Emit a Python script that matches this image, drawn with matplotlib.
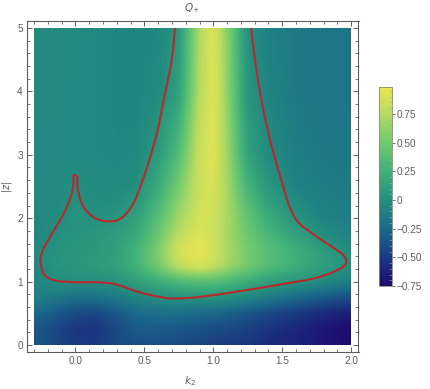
import numpy as np
import matplotlib
matplotlib.use("Agg")
import matplotlib.pyplot as plt
from matplotlib.cm import ScalarMappable
from matplotlib.colors import LinearSegmentedColormap, Normalize
from matplotlib.patches import PathPatch, Rectangle
from matplotlib.path import Path
from matplotlib.ticker import MultipleLocator

# grid
k2 = [-0.3, -0.15, 0, 0.15, 0.3, 0.45, 0.6, 0.75, 0.9, 1.0, 1.1, 1.25, 1.4, 1.6, 1.8, 2.0]
z = [0, 0.25, 0.5, 0.75, 1, 1.25, 1.5, 1.75, 2, 2.5, 3, 4, 5]
q_00 = [-.35, -.42, -.50, -.50, -.42, -.38, -.38, -.42, -.45, -.47, -.50, -.52, -.58, -.62, -.68, -.75]
q_01 = [-.33, -.42, -.52, -.53, -.42, -.33, -.32, -.35, -.38, -.40, -.42, -.47, -.53, -.60, -.68, -.74]
q_02 = [-.25, -.33, -.42, -.44, -.35, -.25, -.22, -.22, -.25, -.27, -.30, -.35, -.42, -.50, -.58, -.65]
q_03 = [-.10, -.15, -.20, -.20, -.14, -.07, .00, .02, .03, .02, .00, -.06, -.14, -.24, -.33, -.40]
q_04 = [-.08, -.01, .00, .00, .03, .12, .22, .33, .38, .38, .33, .22, .12, .05, -.03, -.12]
q_05 = [-.05, .03, .06, .08, .14, .28, .52, .82, .92, .84, .70, .52, .38, .24, .13, .00]
q_06 = [-.04, .02, .05, .07, .12, .28, .55, .88, .97, .88, .72, .52, .38, .24, .10, -.03]
q_07 = [-.07, -.01, .03, .05, .10, .20, .46, .78, .93, .86, .70, .48, .30, .13, -.02, -.09]
q_08 = [-.06, -.03, .02, .00, .04, .14, .38, .68, .88, .86, .72, .44, .22, .03, -.09, -.13]
q_09 = [-.05, -.04, .00, -.03, -.04, .00, .20, .52, .85, .92, .70, .28, .05, -.09, -.13, -.15]
q_10 = [-.05, -.05, -.05, -.05, -.06, -.05, .08, .36, .85, .95, .68, .14, -.03, -.12, -.15, -.16]
q_11 = [-.04, -.04, -.05, -.05, -.06, -.07, -.04, .12, .75, .95, .63, .03, -.08, -.15, -.17, -.17]
q_12 = [-.03, -.03, -.04, -.05, -.06, -.07, -.06, .05, .72, .95, .60, .00, -.10, -.15, -.17, -.17]
Q = np.array([q_00, q_01, q_02, q_03, q_04, q_05, q_06, q_07, q_08, q_09, q_10, q_11, q_12])

# red contour, traced from the left end at the top round to the right end
line_k = [.722, .698, .635, .591, .519, .45, .417, .38, .337, .29, .235, .18, .135, .10, .061, .032, .014, -.002, -.016, -.028, -.055,
          -.09, -.186, -.246, -.253, -.222, -.15, 0, .155, .286, .468, .664, .81, 1.012, 1.252, 1.5, 1.739,
          1.884, 1.964, 1.942, 1.833, 1.717, 1.615, 1.557, 1.524, 1.426, 1.354, 1.303, 1.274]
line_z = [5.0, 4.49, 3.81, 3.34, 2.80, 2.38, 2.22, 2.10, 2.01, 1.96, 1.95, 1.97, 2.01, 2.07, 2.17, 2.31, 2.50, 2.68, 2.52, 2.38, 2.22,
          2.05, 1.70, 1.45, 1.29, 1.10, 1.02, .99, .99, .96, .83, .74, .74, .79, .87, .96, 1.055,
          1.165, 1.29, 1.42, 1.59, 1.76, 1.94, 2.16, 2.38, 3.12, 3.81, 4.49, 5.0]

bar_ticks = [-0.75, -0.5, -0.25, 0, 0.25, 0.5, 0.75]
bar_labels = ["\u22120.75", "\u22120.50", "\u22120.25", "0", "0.25", "0.50", "0.75"]

plt.rcParams["font.family"] = "Liberation Sans"
gray = "#5c5c5c"

vmin, vmax = -0.75, 0.985
stops = [(-0.75, "#1d0a6e"), (-0.5, "#1a3a82"), (-0.25, "#1b6a8a"), (0, "#24907f"),
         (0.25, "#3fb07a"), (0.5, "#6fc96f"), (0.75, "#b5db62"), (0.985, "#eae551")]
cmap = LinearSegmentedColormap.from_list("q", [((v - vmin) / (vmax - vmin), c) for v, c in stops])
norm = Normalize(vmin, vmax)


def smooth_path(xs, ys, aspect=0.46):
    # bezier through the read points, tangents worked out in screen proportions
    p = np.column_stack([xs, np.array(ys) * aspect])
    t = np.zeros_like(p)
    t[1:-1] = p[2:] - p[:-2]
    t[0], t[-1] = p[1] - p[0], p[-1] - p[-2]
    t /= np.linalg.norm(t, axis=1, keepdims=True)
    verts, codes = [p[0]], [Path.MOVETO]
    for i in range(len(p) - 1):
        d = np.linalg.norm(p[i + 1] - p[i]) / 3
        verts += [p[i] + t[i] * d, p[i + 1] - t[i + 1] * d, p[i + 1]]
        codes += [Path.CURVE4] * 3
    verts = np.array(verts)
    verts[:, 1] /= aspect
    return Path(verts, codes)


W, H = 431, 389
fig = plt.figure(figsize=(W / 100, H / 100), dpi=100)
ax = fig.add_axes([27 / W, 1 - 352 / H, 331.5 / W, 331 / H])

# table is uneven, put it on an even grid so imshow can smooth it
even_k = np.arange(-0.3, 2.01, 0.05)
even_z = np.arange(0, 5.01, 0.125)
by_k = np.array([np.interp(even_k, k2, row) for row in Q])
even_Q = np.array([np.interp(even_z, z, col) for col in by_k.T]).T
im = ax.imshow(even_Q, origin="lower", aspect="auto", cmap=cmap, norm=norm, interpolation="bicubic",
               extent=[-0.325, 2.025, -0.0625, 5.0625])
im.set_clip_path(Rectangle((-0.3, 0), 2.3, 5, transform=ax.transData))
ax.add_patch(PathPatch(smooth_path(line_k, line_z), fill=False, edgecolor="#b8282c", lw=1.5,
                       capstyle="butt", joinstyle="round"))
ax.set_xlim(-0.352, 2.054)
ax.set_ylim(-0.11, 5.11)

ax.xaxis.set_major_locator(MultipleLocator(0.5))
ax.xaxis.set_minor_locator(MultipleLocator(0.1))
ax.yaxis.set_major_locator(MultipleLocator(1))
ax.yaxis.set_minor_locator(MultipleLocator(0.2))
ax.xaxis.set_major_formatter(lambda v, p: f"{v:.1f}")
ax.tick_params(which="major", direction="in", length=3.6, width=0.7, color=gray, top=True, right=True,
               labelsize=7.2, labelcolor=gray, pad=3)
ax.tick_params(which="minor", direction="in", length=2.2, width=0.6, color=gray, top=True, right=True)
for s in ax.spines.values():
    s.set_color(gray)
    s.set_linewidth(0.8)

fig.text(192 / W, 1 - 8 / H, "$Q_{+}$", color=gray, fontsize=7.5, ha="center", va="center",
         math_fontfamily="dejavusans")
fig.text(190 / W, 1 - 381 / H, "$k_{2}$", color=gray, fontsize=7.5, ha="center", va="center",
         math_fontfamily="dejavusans")
fig.text(7 / W, 1 - 187 / H, "$|z|$", color=gray, fontsize=7, ha="center", va="center", rotation=90,
         math_fontfamily="dejavusans")

cax = fig.add_axes([379 / W, 1 - 286 / H, 13.5 / W, 199 / H])
cb = fig.colorbar(ScalarMappable(norm=norm, cmap=cmap), cax=cax)
cb.set_ticks(bar_ticks, labels=bar_labels)
cb.ax.yaxis.set_minor_locator(MultipleLocator(0.05))
cb.ax.tick_params(which="major", direction="out", length=2, width=0.6, color=gray, labelsize=7.2,
                  labelcolor=gray, pad=1)
cb.ax.tick_params(which="minor", direction="in", length=2, width=0.4, color="#aaaaaa")
cb.outline.set_edgecolor("#8a8a70")
cb.outline.set_linewidth(0.6)

fig.savefig("out.png", dpi=100)
